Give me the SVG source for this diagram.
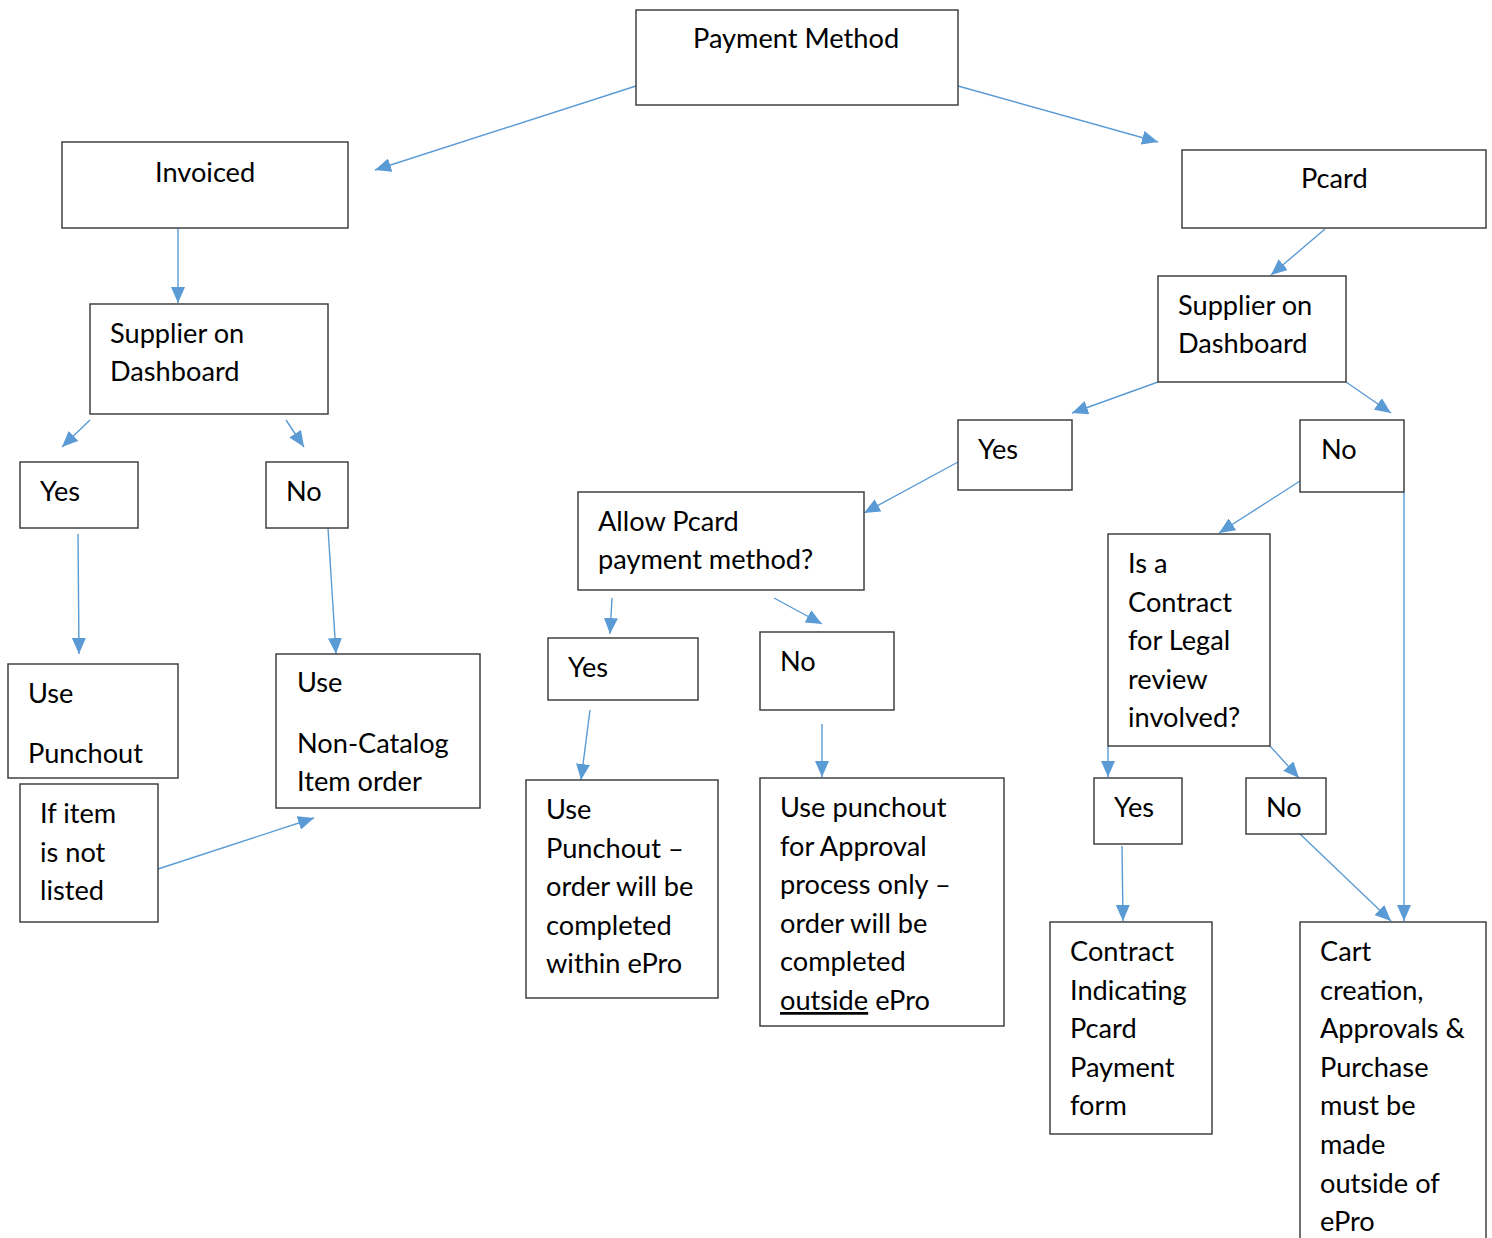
<svg xmlns="http://www.w3.org/2000/svg" width="1492" height="1238" viewBox="0 0 1492 1238">
<style>
.box{fill:#fff;stroke:#404040;stroke-width:1.5}
.t{font-family:Lato,"Open Sans","Liberation Sans",sans-serif;font-size:27.2px;fill:#000}
.c{fill:none;stroke:#5B9BD5;stroke-width:1.4;marker-end:url(#ah)}
</style>
<defs>
<marker id="ah" markerUnits="userSpaceOnUse" markerWidth="18" markerHeight="14" refX="16" refY="7" orient="auto" viewBox="0 0 18 14">
<path d="M0,0 L16,7 L0,14 Z" fill="#5B9BD5"/>
</marker>
</defs>
<rect width="1492" height="1238" fill="#fff"/>
<g id="connectors">
<path class="c" d="M636,86 L375,170"/>
<path class="c" d="M958,86 L1158,142"/>
<path class="c" d="M1325,229 L1271,275"/>
<path class="c" d="M178,228 L178,303"/>
<path class="c" d="M90,420 L62,447"/>
<path class="c" d="M286,420 L304,447"/>
<path class="c" d="M78,534 L79,654"/>
<path class="c" d="M328,528 L336,654"/>
<path class="c" d="M158,869 L314,818"/>
<path class="c" d="M1158,382 L1072,413"/>
<path class="c" d="M1346,382 L1391,413"/>
<path class="c" d="M958,462 L864,513"/>
<path class="c" d="M1300,481 L1219,533"/>
<path class="c" d="M1404,492 L1404,921"/>
<path class="c" d="M612,598 L610,634"/>
<path class="c" d="M774,598 L822,624"/>
<path class="c" d="M590,710 L581,780"/>
<path class="c" d="M822,724 L822,777"/>
<path class="c" d="M1108,746 L1108,777"/>
<path class="c" d="M1270,746 L1299,778"/>
<path class="c" d="M1122,846 L1123,921"/>
<path class="c" d="M1300,834 L1391,921"/>
</g>
<g id="payment-method"><rect class="box" x="636" y="10" width="322" height="95"/><text class="t" x="693" y="48">Payment Method</text></g>
<g id="invoiced"><rect class="box" x="62" y="142" width="286" height="86"/><text class="t" x="155" y="182">Invoiced</text></g>
<g id="pcard"><rect class="box" x="1182" y="150" width="304" height="78"/><text class="t" x="1301" y="188">Pcard</text></g>
<g id="supplier-left"><rect class="box" x="90" y="304" width="238" height="110"/><text class="t" x="110" y="343">Supplier on</text><text class="t" x="110" y="381">Dashboard</text></g>
<g id="supplier-right"><rect class="box" x="1158" y="276" width="188" height="106"/><text class="t" x="1178" y="315">Supplier on</text><text class="t" x="1178" y="353">Dashboard</text></g>
<g id="yes-left"><rect class="box" x="20" y="462" width="118" height="66"/><text class="t" x="40" y="501">Yes</text></g>
<g id="no-left"><rect class="box" x="266" y="462" width="82" height="66"/><text class="t" x="286" y="501">No</text></g>
<g id="use-punchout"><rect class="box" x="8" y="664" width="170" height="114"/><text class="t" x="28" y="703">Use</text><text class="t" x="28" y="763">Punchout</text></g>
<g id="non-catalog"><rect class="box" x="276" y="654" width="204" height="154"/><text class="t" x="297" y="692">Use</text><text class="t" x="297" y="753">Non-Catalog</text><text class="t" x="297" y="791">Item order</text></g>
<g id="not-listed"><rect class="box" x="20" y="784" width="138" height="138"/><text class="t" x="40" y="823">If item</text><text class="t" x="40" y="862">is not</text><text class="t" x="40" y="900">listed</text></g>
<g id="yes-mid"><rect class="box" x="958" y="420" width="114" height="70"/><text class="t" x="978" y="459">Yes</text></g>
<g id="no-right"><rect class="box" x="1300" y="420" width="104" height="72"/><text class="t" x="1321" y="459">No</text></g>
<g id="allow-pcard"><rect class="box" x="578" y="492" width="286" height="98"/><text class="t" x="598" y="531">Allow Pcard</text><text class="t" x="598" y="569">payment method?</text></g>
<g id="yes-allow"><rect class="box" x="548" y="638" width="150" height="62"/><text class="t" x="568" y="677">Yes</text></g>
<g id="no-allow"><rect class="box" x="760" y="632" width="134" height="78"/><text class="t" x="780" y="671">No</text></g>
<g id="within-epro"><rect class="box" x="526" y="780" width="192" height="218"/><text class="t" x="546" y="819">Use</text><text class="t" x="546" y="858">Punchout –</text><text class="t" x="546" y="896">order will be</text><text class="t" x="546" y="935">completed</text><text class="t" x="546" y="973">within ePro</text></g>
<g id="outside-epro"><rect class="box" x="760" y="778" width="244" height="248"/><text class="t" x="780" y="817">Use punchout</text><text class="t" x="780" y="856">for Approval</text><text class="t" x="780" y="894">process only –</text><text class="t" x="780" y="933">order will be</text><text class="t" x="780" y="971">completed</text><text class="t" x="780" y="1010"><tspan text-decoration="underline">outside</tspan> ePro</text></g>
<g id="legal-review"><rect class="box" x="1108" y="534" width="162" height="212"/><text class="t" x="1128" y="573">Is a</text><text class="t" x="1128" y="612">Contract</text><text class="t" x="1128" y="650">for Legal</text><text class="t" x="1128" y="689">review</text><text class="t" x="1128" y="727">involved?</text></g>
<g id="yes-legal"><rect class="box" x="1094" y="778" width="88" height="66"/><text class="t" x="1114" y="817">Yes</text></g>
<g id="no-legal"><rect class="box" x="1246" y="778" width="80" height="56"/><text class="t" x="1266" y="817">No</text></g>
<g id="contract-form"><rect class="box" x="1050" y="922" width="162" height="212"/><text class="t" x="1070" y="961">Contract</text><text class="t" x="1070" y="1000">Indicating</text><text class="t" x="1070" y="1038">Pcard</text><text class="t" x="1070" y="1077">Payment</text><text class="t" x="1070" y="1115">form</text></g>
<g id="outside-cart"><rect class="box" x="1300" y="922" width="186" height="330"/><text class="t" x="1320" y="961">Cart</text><text class="t" x="1320" y="1000">creation,</text><text class="t" x="1320" y="1038">Approvals &amp;</text><text class="t" x="1320" y="1077">Purchase</text><text class="t" x="1320" y="1115">must be</text><text class="t" x="1320" y="1154">made</text><text class="t" x="1320" y="1193">outside of</text><text class="t" x="1320" y="1231">ePro</text></g>
</svg>
